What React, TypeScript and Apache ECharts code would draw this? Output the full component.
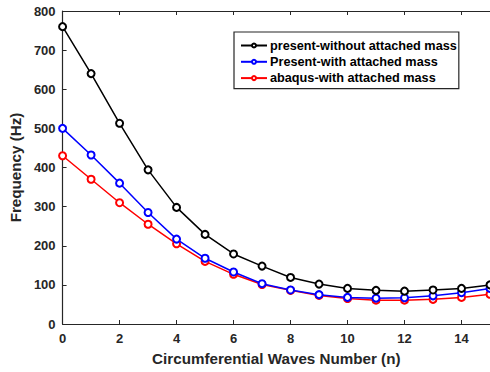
import React, { useEffect, useRef } from "react";
import * as echarts from "echarts";

const waves = [0, 1, 2, 3, 4, 5, 6, 7, 8, 9, 10, 11, 12, 13, 14, 15];
const withoutMass = [760, 640, 513, 394, 298, 229, 179, 148, 119, 102, 91, 86, 84, 87, 91, 100];
const presentWithMass = [500, 432, 360, 285, 217, 168, 133, 103, 87, 75, 68, 66, 67, 72, 80, 91];
const abaqusWithMass = [430, 370, 310, 255, 205, 160, 127, 101, 86, 73, 65, 61, 61, 63, 68, 76];
const seriesNames = [
  "present-without attached mass",
  "Present-with attached mass",
  "abaqus-with attached mass",
];
const seriesColors = ["#000000", "#0000ff", "#ff0000"];

const FONT = "Arial, 'Liberation Sans', sans-serif";
const AXIS = "#262626";

export default function App() {
  const ref = useRef<HTMLDivElement>(null);
  useEffect(() => {
    if (!ref.current) return;
    const chart = echarts.init(ref.current, undefined, { renderer: "svg" });
    const datasets = [withoutMass, presentWithMass, abaqusWithMass];
    chart.setOption({
      animation: false,
      backgroundColor: "#ffffff",
      grid: { left: 62, top: 11, right: -6, bottom: 48, containLabel: false },
      legend: {
        show: true,
        orient: "vertical",
        left: 234,
        top: 32,
        backgroundColor: "#ffffff",
        borderColor: AXIS,
        borderWidth: 1.2,
        borderRadius: 0,
        padding: [7, 2, 4, 6],
        itemGap: 3.3,
        itemWidth: 26,
        itemHeight: 5,
        textStyle: { fontFamily: FONT, fontWeight: "bold", fontSize: 12.7, color: "#000000", padding: [0, 0, 0, -2] },
        data: seriesNames,
      },
      xAxis: [
        {
          type: "value",
          min: 0,
          max: 15,
          interval: 2,
          position: "bottom",
          axisLine: { show: true, lineStyle: { color: AXIS, width: 1.2 } },
          axisTick: { show: true, inside: true, length: 4, lineStyle: { color: AXIS } },
          axisLabel: {
            fontFamily: FONT,
            fontWeight: "bold",
            fontSize: 13,
            color: AXIS,
            margin: 8,
            showMaxLabel: false,
          },
          splitLine: { show: false },
          name: "Circumferential Waves Number (n)",
          nameLocation: "middle",
          nameGap: 27,
          nameTextStyle: { fontFamily: FONT, fontWeight: "bold", fontSize: 15.2, color: AXIS },
        },
        {
          type: "value",
          min: 0,
          max: 15,
          interval: 2,
          position: "top",
          axisLine: { show: true, lineStyle: { color: AXIS, width: 1.2 } },
          axisTick: { show: true, inside: true, length: 4, lineStyle: { color: AXIS } },
          axisLabel: { show: false },
          splitLine: { show: false },
        },
      ],
      yAxis: [
        {
          type: "value",
          min: 0,
          max: 800,
          interval: 100,
          axisLine: { show: true, lineStyle: { color: AXIS, width: 1.2 } },
          axisTick: { show: true, inside: true, length: 4, lineStyle: { color: AXIS } },
          axisLabel: { fontFamily: FONT, fontWeight: "bold", fontSize: 13, color: AXIS, margin: 7 },
          splitLine: { show: false },
          name: "Frequency (Hz)",
          nameLocation: "middle",
          nameGap: 32,
          nameTextStyle: { fontFamily: FONT, fontWeight: "bold", fontSize: 15.2, color: AXIS },
        },
      ],
      series: datasets.map((d, i) => ({
        name: seriesNames[i],
        type: "line",
        data: waves.map((w, k) => [w, d[k]]),
        symbol: "emptyCircle",
        symbolSize: 7,
        showAllSymbol: true,
        color: seriesColors[i],
        lineStyle: { color: seriesColors[i], width: 1.5 },
        itemStyle: { color: seriesColors[i], borderColor: seriesColors[i], borderWidth: 1.5 },
        z: 3 - i,
      })),
    });
    return () => chart.dispose();
  }, []);
  return (
    <div
      ref={ref}
      style={{ position: "fixed", left: 0, top: 0, width: 490, height: 372, background: "#fff" }}
    />
  );
}
